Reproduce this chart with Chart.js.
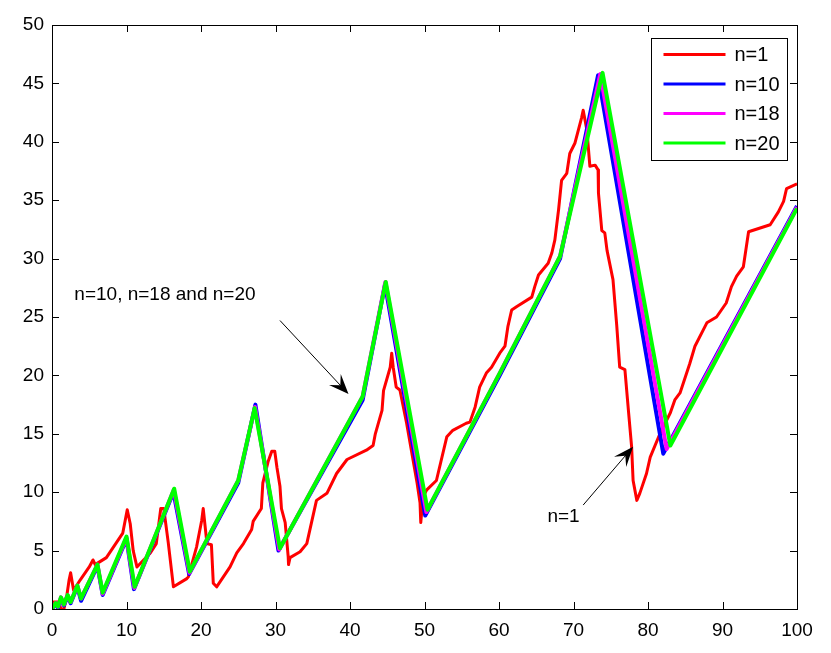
<!DOCTYPE html>
<html>
<head>
<meta charset="utf-8">
<script src="https://cdn.jsdelivr.net/npm/chart.js@4.4.0/dist/chart.umd.min.js"></script>
<style>
html,body{margin:0;padding:0;background:#fff;}
#wrap{width:831px;height:653px;}
</style>
</head>
<body>
<div id="wrap"><canvas id="c" width="831" height="653"></canvas></div>
<script>
const seriesLabels = ["n=1", "n=10", "n=18", "n=20"];
const seriesColors = ["#ff0000", "#0000ff", "#ff00ff", "#00ff00"];

const xTicks = [0,10,20,30,40,50,60,70,80,90,100];
const yTicks = [0,5,10,15,20,25,30,35,40,45,50];

const n1X = [0,0.2,0.9,1.2,1.6,2.0,2.3,2.5,2.9,3.8,5.0,5.5,5.8,7.3,9.5,10.1,10.5,10.9,11.4,13.2,14.0,14.6,15.0,15.6,16.3,18.1,18.3,19.4,20.1,20.3,20.8,21.4,21.65,22.1,23.9,24.8,25.7,26.8,27.0,28.1,28.3,29.0,29.5,29.9,30.2,30.6,30.8,31.3,31.7,31.75,31.95,33.3,34.2,35.5,36.9,38.2,39.6,42.2,43.1,43.4,43.8,44.3,44.5,45.4,45.6,45.8,46.2,46.7,47.6,49.0,49.4,49.5,49.8,50.3,51.6,53.0,53.8,55.6,56.1,56.8,57.4,58.3,59.0,60.1,60.8,61.2,61.7,62.4,64.4,64.8,65.3,66.6,67.1,67.5,68.0,68.4,69.1,69.5,70.2,71.1,71.3,71.8,72.2,72.9,73.3,73.35,73.8,74.2,74.5,75.3,75.8,76.2,76.9,77.4,77.8,78.0,78.5,78.9,79.8,80.3,81.6,83.0,83.6,84.3,85.6,86.3,87.9,89.2,90.5,91.2,91.9,92.8,93.5,96.4,97.5,98.2,98.6,100];
const n1Y = [0,0.6,0.6,0.0,0.0,1.2,2.5,3.1,1.6,2.5,3.6,4.2,3.8,4.4,6.5,8.5,7.3,5.0,3.6,4.8,5.6,8.6,8.6,5.7,1.9,2.6,2.75,5.3,7.6,8.6,5.6,5.5,2.2,1.9,3.6,4.8,5.6,6.8,7.5,8.6,10.8,12.6,13.5,13.5,12.1,10.5,8.6,7.4,4.5,3.8,4.4,4.9,5.6,9.3,9.9,11.6,12.8,13.6,14.0,15.0,15.9,17.0,18.7,20.7,21.9,20.7,19.0,18.75,15.9,10.8,9.1,7.4,9.6,10.2,11.0,14.75,15.3,15.9,16.0,17.3,19.0,20.2,20.7,21.9,22.5,24.2,25.6,25.9,26.7,27.6,28.6,29.6,30.5,31.6,34.2,36.7,37.3,39.0,39.9,42.1,42.7,41.0,37.9,38.0,37.6,35.6,32.4,32.2,30.7,28.2,24.3,20.7,20.5,16.8,13.9,11.0,9.3,9.9,11.6,13.0,15.0,16.8,17.9,18.5,21.0,22.5,24.5,25.0,26.2,27.6,28.5,29.3,32.3,32.9,34.0,34.9,36.0,36.4];

const n10X = [0,0.5,0.8,1.2,1.6,2.1,2.5,3.4,3.9,6.1,6.8,10.0,11.0,16.3,18.4,25.0,27.3,30.4,41.7,44.7,50.1,60.1,68.2,73.3,82.05,100];
const n10Y = [0,0.4,0.1,0.9,0.3,1.1,0.5,1.9,0.7,3.7,1.2,6.0,1.7,10.0,3.0,10.8,17.5,5.0,17.9,27.8,8.0,20.0,30.0,45.7,13.3,34.5];

const n18X = [0,0.5,0.8,1.2,1.6,2.1,2.5,3.4,3.9,6.1,6.8,10.0,11.05,16.35,18.45,25.0,27.25,30.5,41.7,44.75,50.25,60.1,68.2,73.6,82.5,100];
const n18Y = [0,0.5,0.2,1.0,0.4,1.2,0.6,2.0,0.9,3.8,1.3,6.1,1.8,10.2,3.1,11.0,17.3,5.1,18.2,28.0,8.3,20.2,30.2,45.8,13.7,34.4];

const n20X = [0,0.5,0.8,1.2,1.6,2.1,2.5,3.4,3.9,6.1,6.8,10.0,11.1,16.4,18.5,25.0,27.2,30.6,41.7,44.8,50.4,60.1,68.2,73.9,83.0,100];
const n20Y = [0,0.5,0.2,1.0,0.4,1.2,0.6,2.0,0.9,3.8,1.4,6.2,1.9,10.3,3.2,11.0,17.2,5.2,18.2,28.0,8.5,20.2,30.2,45.9,14.0,34.3];

const toPts = (xs, ys) => xs.map((x, i) => ({x: x, y: ys[i]}));
const FONT = '"Liberation Sans", Arial, Helvetica, sans-serif';

const datasets = [
  {label: seriesLabels[0], data: toPts(n1X, n1Y), borderColor: seriesColors[0], borderWidth: 3, order: 3},
  {label: seriesLabels[1], data: toPts(n10X, n10Y), borderColor: seriesColors[1], borderWidth: 4, order: 2},
  {label: seriesLabels[2], data: toPts(n18X, n18Y), borderColor: seriesColors[2], borderWidth: 4, order: 1},
  {label: seriesLabels[3], data: toPts(n20X, n20Y), borderColor: seriesColors[3], borderWidth: 4, order: 0}
].map(d => Object.assign(d, {showLine: true, pointRadius: 0, fill: false, tension: 0, backgroundColor: d.borderColor, borderJoinStyle: 'round'}));

const framePlugin = {
  id: 'frame',
  afterDatasetsDraw(chart) {
    const ctx = chart.ctx, a = chart.chartArea;
    const xs = chart.scales.x, ys = chart.scales.y;
    ctx.save();
    ctx.strokeStyle = '#000';
    ctx.lineWidth = 1;
    ctx.strokeRect(Math.round(a.left) + 0.5, Math.round(a.top) + 0.5, Math.round(a.right - a.left), Math.round(a.bottom - a.top));
    const tl = 7;
    ctx.beginPath();
    xTicks.forEach(v => {
      const px = Math.round(xs.getPixelForValue(v)) + 0.5;
      ctx.moveTo(px, a.bottom); ctx.lineTo(px, a.bottom - tl);
      ctx.moveTo(px, a.top); ctx.lineTo(px, a.top + tl);
    });
    yTicks.forEach(v => {
      const py = Math.round(ys.getPixelForValue(v)) + 0.5;
      ctx.moveTo(a.left, py); ctx.lineTo(a.left + tl, py);
      ctx.moveTo(a.right, py); ctx.lineTo(a.right - tl, py);
    });
    ctx.stroke();

    // legend box
    const bw = 136, bh = 122;
    const bx = Math.round(a.right - 10 - bw) + 0.5, by = Math.round(a.top + 13) + 0.5;
    ctx.fillStyle = '#fff';
    ctx.fillRect(bx, by, bw, bh);
    ctx.strokeStyle = '#000';
    ctx.lineWidth = 1;
    ctx.strokeRect(bx, by, bw, bh);
    ctx.font = '20px ' + FONT;
    ctx.textBaseline = 'middle';
    ctx.textAlign = 'left';
    chart.data.datasets.forEach((d, i) => {
      const ly = by + 16 + i * 29.5;
      ctx.strokeStyle = d.borderColor;
      ctx.lineWidth = 3;
      ctx.beginPath();
      ctx.moveTo(bx + 12, ly); ctx.lineTo(bx + 74, ly);
      ctx.stroke();
      ctx.fillStyle = '#000';
      ctx.fillText(d.label, bx + 83, ly + 1);
    });

    // annotations
    const arrow = (x1, y1, x2, y2) => {
      const p1x = xs.getPixelForValue(x1), p1y = ys.getPixelForValue(y1);
      const p2x = xs.getPixelForValue(x2), p2y = ys.getPixelForValue(y2);
      const ang = Math.atan2(p2y - p1y, p2x - p1x);
      const hl = 20, hw = 8;
      ctx.strokeStyle = '#000';
      ctx.lineWidth = 1;
      ctx.beginPath();
      ctx.moveTo(p1x, p1y);
      ctx.lineTo(p2x - Math.cos(ang) * 8, p2y - Math.sin(ang) * 8);
      ctx.stroke();
      const bxp = p2x - Math.cos(ang) * hl, byp = p2y - Math.sin(ang) * hl;
      const mx = p2x - Math.cos(ang) * (hl * 0.6), my = p2y - Math.sin(ang) * (hl * 0.6);
      ctx.fillStyle = '#000';
      ctx.beginPath();
      ctx.moveTo(p2x, p2y);
      ctx.lineTo(bxp - Math.sin(ang) * hw, byp + Math.cos(ang) * hw);
      ctx.lineTo(mx, my);
      ctx.lineTo(bxp + Math.sin(ang) * hw, byp - Math.cos(ang) * hw);
      ctx.closePath();
      ctx.fill();
    };
    ctx.fillStyle = '#000';
    ctx.font = '19px ' + FONT;
    ctx.textAlign = 'left';
    ctx.textBaseline = 'middle';
    ctx.fillText('n=10, n=18 and n=20', xs.getPixelForValue(3.0), ys.getPixelForValue(26.9));
    arrow(30.6, 24.7, 39.8, 18.4);
    ctx.fillStyle = '#000';
    ctx.fillText('n=1', xs.getPixelForValue(66.5), ys.getPixelForValue(7.9));
    arrow(71.3, 8.9, 78.0, 13.9);
    ctx.restore();
  }
};

new Chart(document.getElementById('c'), {
  type: 'scatter',
  data: {datasets: datasets},
  options: {
    responsive: false,
    animation: false,
    layout: {padding: {left: 0, right: 34, top: 25, bottom: 0}},
    plugins: {legend: {display: false}, tooltip: {enabled: false}},
    scales: {
      x: {
        type: 'linear', min: 0, max: 100,
        afterBuildTicks: s => { s.ticks = xTicks.map(v => ({value: v})); },
        afterFit: s => { s.height = 44; },
        grid: {display: false, drawTicks: false},
        border: {display: false},
        ticks: {color: '#000', font: {size: 19, family: FONT}, padding: 10, maxRotation: 0, autoSkip: false}
      },
      y: {
        type: 'linear', min: 0, max: 50,
        afterBuildTicks: s => { s.ticks = yTicks.map(v => ({value: v})); },
        afterFit: s => { s.width = 52; },
        grid: {display: false, drawTicks: false},
        border: {display: false},
        ticks: {color: '#000', font: {size: 19, family: FONT}, padding: 8, autoSkip: false}
      }
    }
  },
  plugins: [framePlugin]
});
</script>
</body>
</html>
